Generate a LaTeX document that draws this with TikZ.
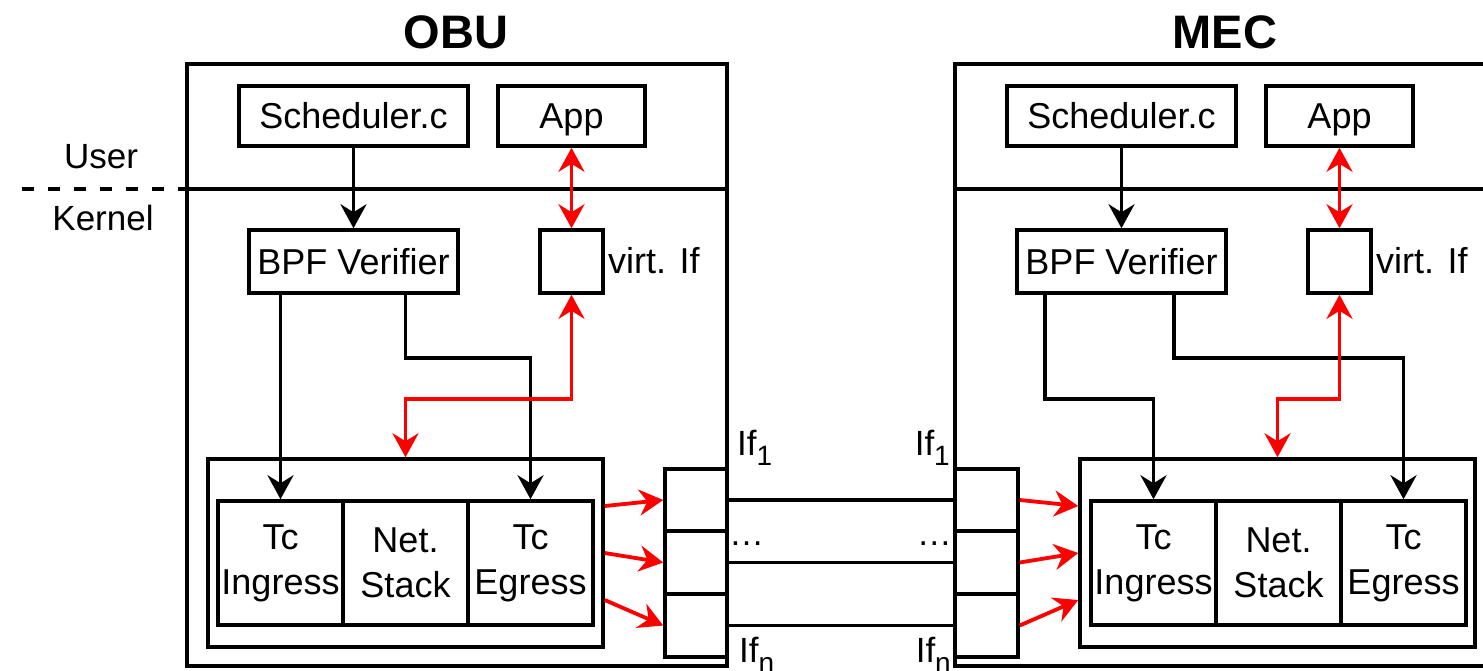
\documentclass[tikz,border=0pt]{standalone}
\usepackage{fontspec}
\setmainfont{Liberation Sans}
\usetikzlibrary{arrows.meta,calc}
\newcommand{\mysub}[1]{\raisebox{-10pt}{\fontsize{28}{28}\selectfont #1}}
\tikzset{
  bx/.style={draw, line width=3.5pt, inner sep=0pt, align=center, font=\fontsize{36}{45}\selectfont},
  one/.style={text height=25pt, text depth=0pt},
  ln/.style={line width=3.8pt},
  tipk/.tip={Stealth[length=24pt,width=26pt,inset=8pt]},
  arr/.style={ln, -tipk},
  rarr/.style={ln, red, -tipk},
  rdarr/.style={ln, red, tipk-tipk},
  lbl/.style={inner sep=0pt, font=\fontsize{35}{42}\selectfont},
  ttl/.style={inner sep=0pt, font=\fontsize{47}{56}\selectfont\bfseries},
}
\begin{document}
\begin{tikzpicture}[x=1pt, y=-1pt]
\useasboundingbox (0,0) rectangle (1483,670);
\clip (0,0) rectangle (1483,670);
\fill[white] (0,0) rectangle (1483,670);

% titles
\node[ttl] (tobu) at (456,32) {OBU};
\node[ttl] (tmec) at (1225,32) {MEC};

% outer boxes
\node[bx, minimum width=540pt, minimum height=602pt] (obu) at (457,365) {};
\node[bx, minimum width=560pt, minimum height=602pt] (mec) at (1235,365) {};

% user / kernel
\coordinate (dashstart) at (22,189);
\draw[ln, dash pattern=on 12pt off 14pt] (dashstart) -- (dashstart -| obu.west);
\draw[ln] (dashstart -| obu.west) -- (dashstart -| obu.east);
\draw[ln] (dashstart -| mec.west) -- (dashstart -| mec.east);
\node[lbl] (user) at (101,157) {User};
\node[lbl] (kernel) at (103,218) {Kernel};

% OBU components
\node[bx, one, minimum width=229pt, minimum height=60pt] (osched) at (353.5,116) {Scheduler.c};
\node[bx, one, minimum width=147pt, minimum height=60pt] (oapp) at (571.5,116) {App};
\node[bx, one, minimum width=209pt, minimum height=63pt] (obpf) at (353.5,261.5) {BPF Verifier};
\node[bx, minimum width=63pt, minimum height=63pt] (ovirt) at (571.5,261.5) {};
\node[lbl, one, anchor=west, font=\fontsize{36}{45}\selectfont] (ovirtl) at (608,261) {virt. If};
\node[bx, minimum width=395pt, minimum height=188pt] (ostack) at (405.5,553) {};
\node[bx, minimum width=125pt, minimum height=124pt] (oing) at (280.5,563) {Tc\\Ingress};
\node[bx, minimum width=125pt, minimum height=124pt] (onet) at (405.5,563) {Net.\\Stack};
\node[bx, minimum width=125pt, minimum height=124pt] (oegr) at (530.5,563) {Tc\\Egress};
\node[bx, minimum width=62pt, minimum height=62pt] (oif1) at (696,500) {};
\node[bx, minimum width=62pt, minimum height=63pt] (oif2) at (696,562.5) {};
\node[bx, minimum width=62pt, minimum height=63pt] (oif3) at (696,625.5) {};

% MEC components
\node[bx, one, minimum width=229pt, minimum height=60pt] (msched) at (1121.5,116) {Scheduler.c};
\node[bx, one, minimum width=147pt, minimum height=60pt] (mapp) at (1339.5,116) {App};
\node[bx, one, minimum width=209pt, minimum height=63pt] (mbpf) at (1121.5,261.5) {BPF Verifier};
\node[bx, minimum width=63pt, minimum height=63pt] (mvirt) at (1339.5,261.5) {};
\node[lbl, one, anchor=west, font=\fontsize{36}{45}\selectfont] (mvirtl) at (1376,261) {virt. If};
\node[bx, minimum width=395pt, minimum height=188pt] (mstack) at (1277.5,553) {};
\node[bx, minimum width=125pt, minimum height=124pt] (ming) at (1153.5,563) {Tc\\Ingress};
\node[bx, minimum width=125pt, minimum height=124pt] (mnet) at (1278.5,563) {Net.\\Stack};
\node[bx, minimum width=125pt, minimum height=124pt] (megr) at (1403.5,563) {Tc\\Egress};
\node[bx, minimum width=63pt, minimum height=62pt] (mif1) at (986.5,500) {};
\node[bx, minimum width=63pt, minimum height=63pt] (mif2) at (986.5,562.5) {};
\node[bx, minimum width=63pt, minimum height=63pt] (mif3) at (986.5,625.5) {};

% interface labels
\node[lbl, anchor=base west] (lif1) at (737,455) {If\mysub{1}};
\node[lbl, anchor=base east] (rif1) at (950,455) {If\mysub{1}};
\node[lbl, anchor=base west] (ldots) at (729,545) {…};
\node[lbl, anchor=base east] (rdots) at (952,545) {…};
\node[lbl, anchor=base west] (lifn) at (739,662) {If\mysub{n}};
\node[lbl, anchor=base east] (rifn) at (951,662) {If\mysub{n}};

% links between interfaces
\draw[ln] (oif1.east) -- (mif1.west);
\draw[ln] (oif2.east) -- (mif2.west);
\draw[ln] (oif3.east) -- (mif3.west);

% OBU connectors
\draw[arr] (osched.south) -- (obpf.north);
\draw[arr] (obpf.south -| oing.north) -- (oing.north);
\draw[arr] (obpf.south -| onet.north) -- ++(0,63) -| (oegr.north);
\draw[rdarr] (oapp.south) -- (ovirt.north);
\draw[rdarr] (ovirt.south) -- ++(0,104) -| (ostack.north);
\draw[rarr] ($(ostack.east)+(0,-47)$) -- (oif1.west);
\draw[rarr] (ostack.east) -- (oif2.west);
\draw[rarr] ($(ostack.east)+(0,47)$) -- (oif3.west);

% MEC connectors
\draw[arr] (msched.south) -- (mbpf.north);
\draw[arr] ($(mbpf.south west)+(30,0)$) -- ++(0,104) -| (ming.north);
\draw[arr] ($(mbpf.south)+(52.5,0)$) -- ++(0,63) -| (megr.north);
\draw[rdarr] (mapp.south) -- (mvirt.north);
\draw[rdarr] (mvirt.south) -- ++(0,104) -| (mstack.north);
\draw[rarr] (mif1.east) -- ($(mstack.west)+(0,-47)$);
\draw[rarr] (mif2.east) -- (mstack.west);
\draw[rarr] (mif3.east) -- ($(mstack.west)+(0,47)$);
\end{tikzpicture}
\end{document}
